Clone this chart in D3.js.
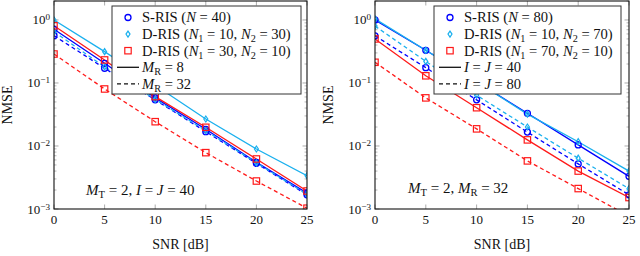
<!DOCTYPE html>
<html><head><meta charset="utf-8">
<script src="https://cdn.jsdelivr.net/npm/d3@7"></script>
<style>body{margin:0;background:#fff}svg{display:block}
text{font-family:"Liberation Serif","DejaVu Serif",serif}</style>
</head><body><svg id="c" width="640" height="256"></svg>
<script>
// ---------- data ----------
const snr = [0, 5, 10, 15, 20, 25];
const xTicks = [0, 5, 10, 15, 20, 25];
const yTickExp = [0, -1, -2, -3];

// Left panel: M_T = 2, I = J = 40
const leftSris8    = [0.71, 0.205, 0.058, 0.0184, 0.0055, 0.0018];
const leftSris32   = [0.564, 0.171, 0.054, 0.0169, 0.0053, 0.00168];
const leftD1030_8  = [1.0, 0.314, 0.092, 0.0268, 0.00896, 0.00338];
const leftD1030_32 = [0.65, 0.18, 0.055, 0.0175, 0.0054, 0.00171];
const leftD3010_8  = [0.81, 0.232, 0.0607, 0.0198, 0.00622, 0.00193];
const leftD3010_32 = [0.288, 0.0803, 0.0243, 0.00784, 0.00278, 0.00103];

// Right panel: M_T = 2, M_R = 32
const rightSris40   = [1.0, 0.33, 0.105, 0.033, 0.0104, 0.0033];
const rightSris80   = [0.56, 0.175, 0.054, 0.0166, 0.0052, 0.00168];
const rightD1070_40 = [1.04, 0.33, 0.105, 0.032, 0.0117, 0.0040];
const rightD1070_80 = [0.80, 0.22, 0.064, 0.020, 0.0064, 0.0021];
const rightD7010_40 = [0.50, 0.13, 0.0405, 0.0125, 0.0040, 0.00152];
const rightD7010_80 = [0.213, 0.058, 0.0187, 0.0058, 0.00211, 0.00077];

const BLUE = "#0000ff", CYAN = "#1ab0ee", RED = "#ff1a1a";

const panels = [
  {
    x0: 54, x1: 307, id: "L",
    series: [
      {v: leftSris8, c: BLUE, m: "circle", dash: false},
      {v: leftSris32, c: BLUE, m: "circle", dash: true},
      {v: leftD1030_8, c: CYAN, m: "diamond", dash: false},
      {v: leftD1030_32, c: CYAN, m: "diamond", dash: true},
      {v: leftD3010_8, c: RED, m: "square", dash: false},
      {v: leftD3010_32, c: RED, m: "square", dash: true}
    ],
    legend: {x: 112, y: 6, w: 189, h: 88},
    entries: [
      {m: "circle", c: BLUE, t: [["S-RIS ("], ["N", "i"], [" = 40)"]]},
      {m: "diamond", c: CYAN, t: [["D-RIS ("], ["N", "i"], ["1", "sub"], [" = 10, "], ["N", "i"], ["2", "sub"], [" = 30)"]]},
      {m: "square", c: RED, t: [["D-RIS ("], ["N", "i"], ["1", "sub"], [" = 30, "], ["N", "i"], ["2", "sub"], [" = 10)"]]},
      {line: false, t: [["M", "i"], ["R", "sub"], [" = 8"]]},
      {line: true, t: [["M", "i"], ["R", "sub"], [" = 32"]]}
    ],
    note: {x: 86, y: 195, t: [["M", "i"], ["T", "sub"], [" = 2, "], ["I", "i"], [" = "], ["J", "i"], [" = 40"]]}
  },
  {
    x0: 375, x1: 629, id: "R",
    series: [
      {v: rightSris40, c: BLUE, m: "circle", dash: false},
      {v: rightSris80, c: BLUE, m: "circle", dash: true},
      {v: rightD1070_40, c: CYAN, m: "diamond", dash: false},
      {v: rightD1070_80, c: CYAN, m: "diamond", dash: true},
      {v: rightD7010_40, c: RED, m: "square", dash: false},
      {v: rightD7010_80, c: RED, m: "square", dash: true}
    ],
    legend: {x: 434, y: 6, w: 187, h: 88},
    entries: [
      {m: "circle", c: BLUE, t: [["S-RIS ("], ["N", "i"], [" = 80)"]]},
      {m: "diamond", c: CYAN, t: [["D-RIS ("], ["N", "i"], ["1", "sub"], [" = 10, "], ["N", "i"], ["2", "sub"], [" = 70)"]]},
      {m: "square", c: RED, t: [["D-RIS ("], ["N", "i"], ["1", "sub"], [" = 70, "], ["N", "i"], ["2", "sub"], [" = 10)"]]},
      {line: false, t: [["I", "i"], [" = "], ["J", "i"], [" = 40"]]},
      {line: true, t: [["I", "i"], [" = "], ["J", "i"], [" = 80"]]}
    ],
    note: {x: 408, y: 193, t: [["M", "i"], ["T", "sub"], [" = 2, "], ["M", "i"], ["R", "sub"], [" = 32"]]}
  }
];

const Y0 = 1, Y1 = 209;
const svg = d3.select("#c");

function rich(sel, segs, size) {
  segs.forEach(s => {
    const ts = sel.append("tspan").text(s[0]);
    if (s[1] === "i") ts.attr("font-style", "italic");
    if (s[1] === "sub") ts.attr("font-size", size * 0.7).attr("baseline-shift", "-25%");
    if (s[1] === "sup") ts.attr("font-size", size * 0.7).attr("baseline-shift", "45%");
  });
}

function marker(g, type, cx, cy, color) {
  if (type === "circle") {
    g.append("circle").attr("cx", cx).attr("cy", cy).attr("r", 3)
      .attr("fill", "none").attr("stroke", color).attr("stroke-width", 1.3);
  } else if (type === "square") {
    g.append("rect").attr("x", cx - 3.2).attr("y", cy - 3.2).attr("width", 6.4).attr("height", 6.4)
      .attr("fill", "none").attr("stroke", color).attr("stroke-width", 1.2);
  } else {
    g.append("path").attr("d", `M${cx},${cy - 3}L${cx + 2},${cy}L${cx},${cy + 3}L${cx - 2},${cy}Z`)
      .attr("fill", "none").attr("stroke", color).attr("stroke-width", 1.2);
  }
}

panels.forEach(p => {
  const x = d3.scaleLinear().domain([0, 25]).range([p.x0, p.x1]);
  const y = d3.scaleLog().domain([1e-3, 2]).range([Y1, Y0]);
  const g = svg.append("g");

  g.append("clipPath").attr("id", "clip" + p.id)
    .append("rect").attr("x", p.x0).attr("y", Y0).attr("width", p.x1 - p.x0).attr("height", Y1 - Y0);

  const minors = [];
  for (let e = -3; e < 1; e++) for (let k = 2; k <= 9; k++) { const v = k * Math.pow(10, e); if (v <= 2) minors.push(v); }
  minors.forEach(v => {
    [[p.x0, 2.5], [p.x1, -2.5]].forEach(([xx, d]) => {
      g.append("line").attr("x1", xx).attr("x2", xx + d).attr("y1", y(v)).attr("y2", y(v))
        .attr("stroke", "#888").attr("stroke-width", 0.6);
    });
  });
  yTickExp.forEach(e => {
    const v = Math.pow(10, e);
    [[p.x0, 4.5], [p.x1, -4.5]].forEach(([xx, d]) => {
      g.append("line").attr("x1", xx).attr("x2", xx + d).attr("y1", y(v)).attr("y2", y(v))
        .attr("stroke", "#888").attr("stroke-width", 0.7);
    });
    const t = g.append("text").attr("x", p.x0 - 4).attr("y", y(v) + 4.5).attr("text-anchor", "end")
      .attr("font-size", 13).attr("fill", "#111");
    rich(t, [["10"], [e === 0 ? "0" : "\u2212" + (-e), "sup"]], 13);
  });
  xTicks.forEach(v => {
    [[Y1, -4.5], [Y0, 4.5]].forEach(([yy, d]) => {
      g.append("line").attr("x1", x(v)).attr("x2", x(v)).attr("y1", yy).attr("y2", yy + d)
        .attr("stroke", "#888").attr("stroke-width", 0.7);
    });
    g.append("text").attr("x", x(v)).attr("y", Y1 + 15).attr("text-anchor", "middle")
      .attr("font-size", 13).attr("fill", "#111").text(v);
  });

  const line = d3.line().x((d, i) => x(snr[i])).y(d => y(d));
  const sg = g.append("g").attr("clip-path", `url(#clip${p.id})`);
  p.series.forEach(s => {
    sg.append("path").attr("d", line(s.v)).attr("fill", "none").attr("stroke", s.c)
      .attr("stroke-width", 1.3).attr("stroke-dasharray", s.dash ? "4,3" : null);
  });
  p.series.forEach(s => {
    s.v.forEach((d, i) => { if (d >= 1e-3) marker(sg, s.m, x(snr[i]), y(d), s.c); });
  });

  g.append("rect").attr("x", p.x0).attr("y", Y0).attr("width", p.x1 - p.x0).attr("height", Y1 - Y0)
    .attr("fill", "none").attr("stroke", "#111").attr("stroke-width", 1.1);

  const nt = g.append("text").attr("x", p.note.x).attr("y", p.note.y)
    .attr("font-size", 15).attr("fill", "#111");
  rich(nt, p.note.t, 15);

  const L = p.legend;
  g.append("rect").attr("x", L.x).attr("y", L.y).attr("width", L.w).attr("height", L.h)
    .attr("fill", "#fff").attr("stroke", "#333").attr("stroke-width", 1);
  p.entries.forEach((e, i) => {
    const cy = L.y + 11.5 + i * 16.6;
    if (e.m) marker(g, e.m, L.x + 16, cy, e.c);
    else g.append("line").attr("x1", L.x + 5).attr("x2", L.x + 27).attr("y1", cy).attr("y2", cy)
      .attr("stroke", "#111").attr("stroke-width", 1.3).attr("stroke-dasharray", e.line ? "4,3" : null);
    const t = g.append("text").attr("x", L.x + 30).attr("y", cy + 4.8)
      .attr("font-size", 14.6).attr("fill", "#111");
    rich(t, e.t, 14.6);
  });

  svg.append("text").attr("x", (p.x0 + p.x1) / 2).attr("y", 249).attr("text-anchor", "middle")
    .attr("font-size", 14).attr("fill", "#111").text("SNR [dB]");
  svg.append("text").attr("transform", `translate(${p.x0 - 42},${(Y0 + Y1) / 2}) rotate(-90)`)
    .attr("text-anchor", "middle").attr("font-size", 14).attr("fill", "#111").text("NMSE");
});
</script></body></html>
